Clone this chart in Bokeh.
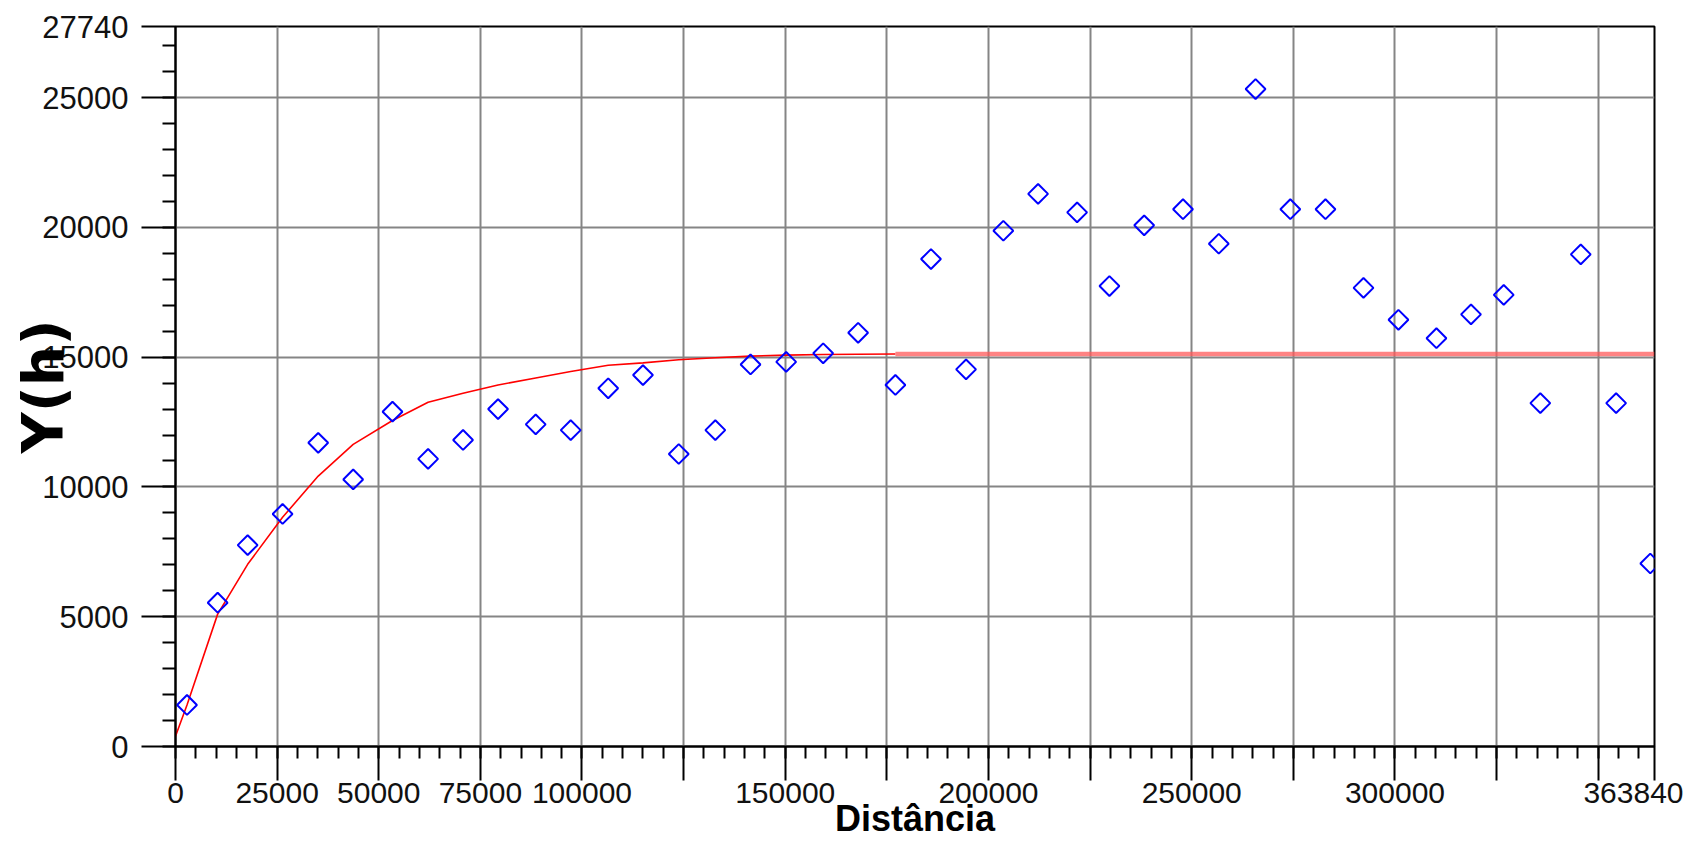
import numpy as np
from bokeh.plotting import figure
from bokeh.models import Range1d, FixedTicker
from bokeh.embed import file_html
from bokeh.resources import INLINE

# ---- data ----
lag_x = [2830, 10370, 17750, 26340, 35110, 43710, 53380, 62140, 70740, 79350,
         88610, 97220, 106450, 115000, 123800, 132800, 141460, 150230, 159330, 167930,
         177100, 185850, 194480, 203650, 212200, 221800, 229750, 238300, 247850, 256650,
         265700, 274250, 282900, 292250, 300850, 310200, 318700, 326750, 335750, 345700,
         354400, 362800]
gamma = [1600, 5540, 7760, 8960, 11700, 10290, 12900, 11080, 11810, 13000,
         12410, 12190, 13800, 14310, 11270, 12190, 14720, 14820, 15150, 15940,
         13930, 18780, 14530, 19870, 21290, 20580, 17740, 20080, 20700, 19370,
         25330, 20700, 20700, 17670, 16440, 15730, 16650, 17400, 13230, 18960,
         13230, 7050]

model_x = [0, 2830, 10370, 17750, 26340, 35110, 43710, 53380, 62140, 70740, 79350,
           88610, 97220, 106450, 115000, 123800, 132800, 141460, 150230, 159330,
           167930, 177100]
model_y = [400, 1600, 5100, 7020, 8830, 10420, 11640, 12560, 13260, 13610, 13930,
           14200, 14450, 14690, 14780, 14900, 14980, 15040, 15080, 15100, 15110, 15120]
plateau_x = [177100, 363840]
plateau_y = [15120, 15120]

x_max = 363840
y_max = 27740
x_major = [0, 25000, 50000, 75000, 100000, 125000, 150000, 175000, 200000, 225000,
           250000, 275000, 300000, 325000, 350000, 363840]
x_labels = ["0", "25000", "50000", "75000", "100000", "", "150000", "", "200000", "",
            "250000", "", "300000", "", "", "363840"]
y_major = [0, 5000, 10000, 15000, 20000, 25000, 27740]
y_labels = ["0", "5000", "10000", "15000", "20000", "25000", "27740"]
x_minor_step = 5000
y_minor_step = 1000

x_title = "Distância"
y_title = "Y(h)"

# ---- figure ----
p = figure(width=1683, height=849, output_backend="svg", toolbar_location=None,
           x_range=Range1d(0, x_max), y_range=Range1d(0, y_max),
           min_border_left=175, min_border_right=29, min_border_top=26,
           min_border_bottom=103)
p.background_fill_color = "white"
p.border_fill_color = "white"
p.outline_line_color = "black"
p.outline_line_width = 2

p.xaxis.ticker = FixedTicker(ticks=x_major,
                             minor_ticks=list(range(0, x_max + 1, x_minor_step)))
p.yaxis.ticker = FixedTicker(ticks=y_major,
                             minor_ticks=list(range(0, y_max + 1, y_minor_step)))
p.xaxis.major_label_overrides = {v: s for v, s in zip(x_major, x_labels)}
p.yaxis.major_label_overrides = {v: s for v, s in zip(y_major, y_labels)}

for ax in (p.xaxis, p.yaxis):
    ax.axis_line_color = "black"
    ax.axis_line_width = 2
    ax.major_tick_line_color = "black"
    ax.major_tick_line_width = 2
    ax.minor_tick_line_color = "black"
    ax.minor_tick_line_width = 2
    ax.major_tick_in = 0
    ax.minor_tick_in = 0
    ax.major_tick_out = 34
    ax.major_label_text_font = "Liberation Sans"
    ax.major_label_text_color = "#111111"
    ax.axis_label_text_color = "black"
    ax.axis_label_text_font_style = "bold"
p.xaxis.major_label_text_font_size = "30px"
p.yaxis.major_label_text_font_size = "31px"
p.xaxis.minor_tick_out = 12
p.yaxis.minor_tick_out = 13
p.xaxis.major_label_standoff = 2
p.yaxis.major_label_standoff = 13

p.xaxis.axis_label = x_title
p.xaxis.axis_label_text_font = "Liberation Sans"
p.xaxis.axis_label_text_font_size = "36px"
p.xaxis.axis_label_standoff = -8

p.yaxis.axis_label = y_title
p.yaxis.axis_label_text_font = "DejaVu Sans"
p.yaxis.axis_label_text_font_size = "57px"
p.yaxis.axis_label_standoff = -37

p.xgrid.grid_line_color = "#858585"
p.xgrid.grid_line_width = 2
p.ygrid.grid_line_color = "#858585"
p.ygrid.grid_line_width = 2

# model line
p.line(model_x, model_y, line_color="#ff0000", line_width=1.6)
p.line(plateau_x, plateau_y, line_color="#ff5a5a", line_width=4.5, line_alpha=0.75)

# experimental semivariogram
p.scatter(lag_x, gamma, marker="square", angle=np.pi / 4, size=14,
          fill_color=None, line_color="#0000ff", line_width=2)

open("out.html", "w").write(file_html(p, INLINE))
